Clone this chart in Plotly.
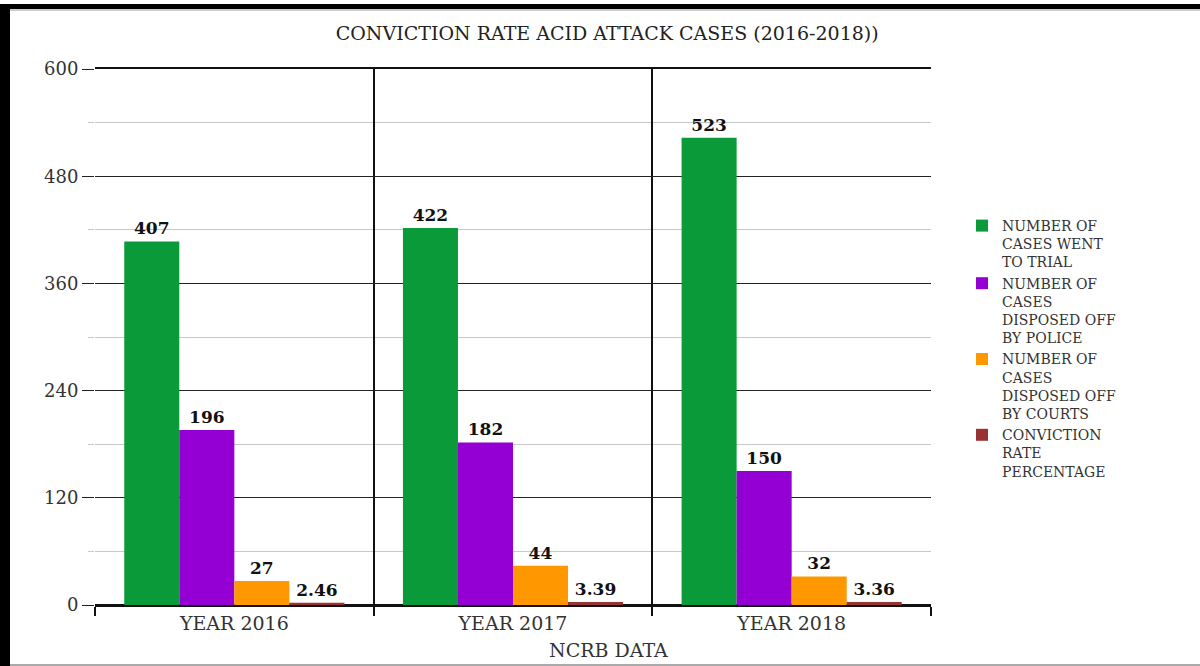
import plotly.graph_objects as go

categories = ["YEAR 2016", "YEAR 2017", "YEAR 2018"]
series_names = [
    "NUMBER OF<br>CASES WENT<br>TO TRIAL",
    "NUMBER OF<br>CASES<br>DISPOSED OFF<br>BY POLICE",
    "NUMBER OF<br>CASES<br>DISPOSED OFF<br>BY COURTS",
    "CONVICTION<br>RATE<br>PERCENTAGE",
]
went_to_trial = [407, 422, 523]
disposed_police = [196, 182, 150]
disposed_courts = [27, 44, 32]
conviction_rate = [2.46, 3.39, 3.36]
y_ticks = [0, 120, 240, 360, 480, 600]

colors = ["#0a9a3a", "#9400d3", "#ff9800", "#993333"]
FONT = "DejaVu Serif"

W, H = 1200, 666
L, R, T, B = 95, 931, 69, 605  # plot area in px


def px_x(x):
    return (x - L) / (R - L)


def px_y(y):
    return (B - y) / (B - T)


fig = go.Figure()
for name, vals, col in zip(series_names,
                           [went_to_trial, disposed_police, disposed_courts, conviction_rate],
                           colors):
    fig.add_trace(go.Bar(
        x=categories, y=vals, name=name,
        marker=dict(color=col, line=dict(width=0)),
        text=[str(v) for v in vals], textposition="outside",
        textfont=dict(family=FONT, size=17, color="#111"),
        texttemplate="<b>%{text}</b>",
        cliponaxis=False,
    ))

fig.update_layout(
    width=W, height=H,
    margin=dict(l=L, r=W - R, t=T, b=H - B),
    paper_bgcolor="white", plot_bgcolor="white",
    barmode="group", bargap=0.21, bargroupgap=0,
    font=dict(family=FONT, color="#333"),
    title=dict(text="CONVICTION RATE ACID ATTACK CASES (2016-2018))",
               x=0.506, xref="container", xanchor="center",
               y=1 - 33 / H, yref="container", yanchor="middle",
               font=dict(family=FONT, size=19, color="#222")),
    showlegend=True,
    legend=dict(x=px_x(962), y=px_y(210), xanchor="left", yanchor="top",
                font=dict(family=FONT, size=14, color="#333"),
                valign="top", itemwidth=30, tracegroupgap=0,
                bgcolor="rgba(0,0,0,0)"),
    xaxis=dict(
        tickson="boundaries", showgrid=True, gridcolor="#111", gridwidth=1.5,
        ticks="outside", ticklen=9, tickcolor="#111", tickwidth=1.5,
        showline=True, linecolor="#111", linewidth=1.5, mirror=True,
        tickfont=dict(family=FONT, size=19, color="#333"),
    ),
    yaxis=dict(
        range=[0, 600], tickvals=y_ticks, showgrid=True,
        gridcolor="#222", gridwidth=1.2,
        ticks="outside", ticklen=12, tickcolor="#222", tickwidth=1.2,
        showline=False, zeroline=True, zerolinecolor="#111", zerolinewidth=1.5,
        tickfont=dict(family=FONT, size=18, color="#333"),
        minor=dict(dtick=60, showgrid=True, gridcolor="#c8c8c8", gridwidth=1,
                   ticks="outside", ticklen=6, tickcolor="#c8c8c8"),
    ),
)

fig.add_annotation(text="NCRB DATA", x=px_x(608), y=px_y(650), xref="paper", yref="paper",
                   showarrow=False, font=dict(family=FONT, size=19, color="#333"),
                   xanchor="center", yanchor="middle")

# image frame: thick black left and top bars, thin grey bottom line
fig.add_shape(type="rect", xref="paper", yref="paper",
              x0=px_x(0), x1=px_x(10), y0=px_y(666), y1=px_y(4),
              fillcolor="black", line=dict(width=0), layer="above")
fig.add_shape(type="rect", xref="paper", yref="paper",
              x0=px_x(0), x1=px_x(1200), y0=px_y(9), y1=px_y(4),
              fillcolor="black", line=dict(width=0), layer="above")
fig.add_shape(type="line", xref="paper", yref="paper",
              x0=px_x(10), x1=px_x(1200), y0=px_y(10), y1=px_y(10),
              line=dict(color="#999", width=1), layer="above")
fig.add_shape(type="line", xref="paper", yref="paper",
              x0=px_x(10), x1=px_x(1200), y0=px_y(665), y1=px_y(665),
              line=dict(color="#aaa", width=2), layer="above")

fig.write_html("out.html")
